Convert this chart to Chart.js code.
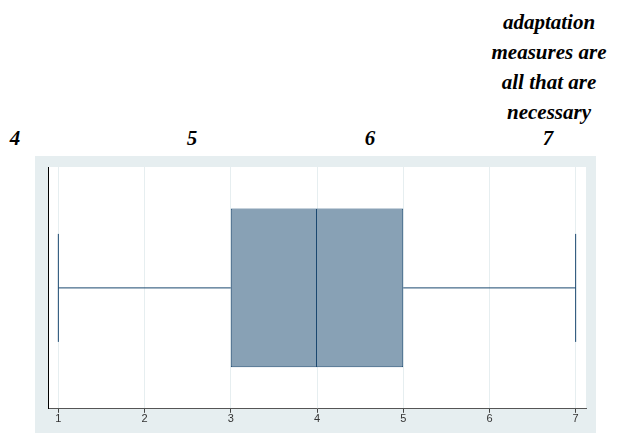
<!DOCTYPE html>
<html>
<head>
<meta charset="utf-8">
<script src="https://cdn.jsdelivr.net/npm/chart.js@4/dist/chart.umd.min.js"></script>
<style>
  body { margin: 0; background: #fff; width: 625px; height: 434px; position: relative; overflow: hidden; }
  .top { position: absolute; font-family: "Liberation Serif", "Times New Roman", serif; font-weight: bold; font-style: italic;
         font-size: 21px; line-height: 30px; color: #000; text-align: center; transform: translateX(-50%); white-space: nowrap; }
  #box { position: absolute; left: 35px; top: 156px; width: 561px; height: 277px; background: #e6eef0; }
</style>
</head>
<body>
<div id="heads"></div>
<div id="box"><canvas id="myChart"></canvas></div>
<script>
// top labels (Stata leftover header)
var headLabels = ['4', '5', '6', '7'];
var headNote = ['adaptation', 'measures are', 'all that are', 'necessary'];

// box plot values
var categories = ['adaptation measures are all that are necessary'];
var minVal = [1];
var q1 = [3];
var median = [4];
var q3 = [5];
var maxVal = [7];
var xTicks = [1, 2, 3, 4, 5, 6, 7];

var navy = '#1a476f';
var boxFill = 'rgb(136,161,181)';

// header text
var heads = document.getElementById('heads');
var headX = [15, 192, 370, 548];
headLabels.forEach(function(t, i) {
    var d = document.createElement('div');
    d.className = 'top';
    d.style.left = headX[i] + 'px';
    d.style.top = '123px';
    d.textContent = t;
    heads.appendChild(d);
});
var note = document.createElement('div');
note.className = 'top';
note.style.left = '549px';
note.style.top = '7px';
note.innerHTML = headNote.join('<br>');
heads.appendChild(note);

const whiteArea = {
    id: 'whiteArea',
    beforeDraw(chart) {
        const a = chart.chartArea, ctx = chart.ctx;
        ctx.save();
        ctx.fillStyle = '#ffffff';
        ctx.fillRect(a.left, a.top, a.right - a.left, a.bottom - a.top);
        ctx.restore();
    }
};

const data = {
    labels: categories,
    datasets: [
        {
            type: 'bar',
            data: q1.map((v, i) => [v, median[i]]),
            backgroundColor: boxFill,
            borderColor: navy,
            borderWidth: 1,
            borderSkipped: false,
            grouped: false,
            barPercentage: 0.657,
            categoryPercentage: 1
        },
        {
            type: 'bar',
            data: median.map((v, i) => [v, q3[i]]),
            backgroundColor: boxFill,
            borderColor: navy,
            borderWidth: 1,
            borderSkipped: 'start',
            grouped: false,
            barPercentage: 0.657,
            categoryPercentage: 1
        },
        {
            type: 'scatter',
            data: [{x: minVal[0], y: 0}, {x: q1[0], y: 0}],
            showLine: true,
            borderColor: navy,
            borderWidth: 1,
            pointRadius: 0
        },
        {
            type: 'scatter',
            data: [{x: q3[0], y: 0}, {x: maxVal[0], y: 0}],
            showLine: true,
            borderColor: navy,
            borderWidth: 1,
            pointRadius: 0
        },
        {
            type: 'scatter',
            data: [{x: minVal[0], y: 0}, {x: maxVal[0], y: 0}],
            pointStyle: 'line',
            pointRotation: 90,
            pointRadius: 54,
            pointBorderColor: navy,
            pointBorderWidth: 1,
            borderColor: navy
        }
    ]
};

const config = {
    type: 'bar',
    data: data,
    plugins: [whiteArea],
    options: {
        indexAxis: 'y',
        responsive: false,
        animation: false,
        events: [],
        layout: { autoPadding: false, padding: { left: 13, right: 10, top: 11, bottom: 7 } },
        plugins: { legend: { display: false }, tooltip: { enabled: false } },
        scales: {
            x: {
                type: 'linear',
                min: 0.88,
                max: 7.12,
                afterBuildTicks: function(axis) { axis.ticks = xTicks.map(v => ({ value: v })); },
                ticks: { font: { family: 'Liberation Sans, Arial', size: 11 }, color: '#333', padding: 0 },
                grid: { color: '#e6eef0', tickColor: '#444', tickLength: 4, lineWidth: 1 },
                border: { display: true, color: '#555', width: 1 }
            },
            y: {
                type: 'category',
                offset: true,
                ticks: { display: false },
                grid: { display: false, drawTicks: false },
                border: { display: true, color: '#000', width: 1 }
            }
        }
    }
};

var canvas = document.getElementById('myChart');
canvas.width = 561;
canvas.height = 277;
const myChart = new Chart(canvas, config);
</script>
</body>
</html>
